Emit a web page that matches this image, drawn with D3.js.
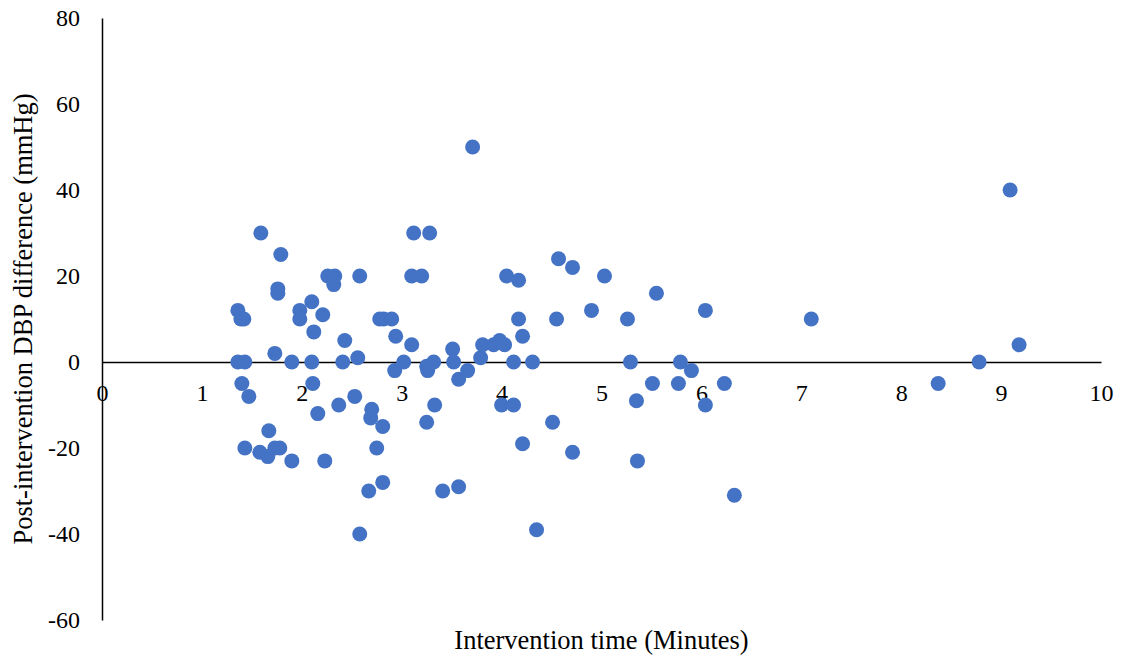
<!DOCTYPE html>
<html>
<head>
<meta charset="utf-8">
<script src="https://cdn.jsdelivr.net/npm/d3@7"></script>
<style>
  body { margin: 0; background: #fff; }
  text { font-family: "Liberation Serif", "Times New Roman", serif; fill: #000; }
</style>
</head>
<body>
<svg id="chart" width="1127" height="657"></svg>
<script>
var width = 1127, height = 657;

// intervention time (minutes)
var timeMin = [
  1.36, 1.39, 1.42, 1.36, 1.43, 1.40, 1.47, 1.43, 1.59, 1.79,
  1.76, 1.76, 1.73, 1.58, 1.66, 1.67, 1.73, 1.78, 1.90, 1.90,
  1.98, 1.98, 2.10, 2.12, 2.10, 2.11, 2.16, 2.21, 2.23, 2.26,
  2.33, 2.32, 2.37, 2.41, 2.43, 2.53, 2.56, 2.58, 2.58, 2.67,
  2.70, 2.69, 2.75, 2.78, 2.82, 2.90, 2.81, 2.81, 2.94, 2.93,
  3.02, 3.10, 3.10, 3.20, 3.12, 3.28, 3.25, 3.25, 3.26, 3.32,
  3.33, 3.41, 3.51, 3.52, 3.57, 3.57, 3.66, 3.71, 3.79, 3.81,
  3.92, 3.98, 4.03, 4.00, 4.12, 4.05, 4.12, 4.17, 4.17, 4.21,
  4.21, 4.31, 4.35, 4.51, 4.55, 4.57, 4.71, 4.71, 4.90, 5.03,
  5.26, 5.29, 5.35, 5.36, 5.51, 5.55, 5.77, 5.79, 5.90, 6.04,
  6.04, 6.23, 6.33, 7.10, 8.37, 8.78, 9.09, 9.18
];
// post-intervention DBP difference (mmHg)
var dbpDiff = [
  12, 10, 10, 0, 0, -5, -8, -20, 30, 25,
  17, 16, 2, -21, -22, -16, -20, -20, 0, -23,
  12, 10, 14, 7, 0, -5, -12, 11, -23, 20,
  20, 18, -10, 0, 5, -8, 1, 20, -40, -30,
  -11, -13, -20, 10, 10, 10, -15, -28, 6, -2,
  0, 4, 20, 20, 30, 30, -14, -1, -2, 0,
  -10, -30, 3, 0, -4, -29, -2, 50, 1, 4,
  4, 5, 4, -10, -10, 20, 0, 19, 10, 6,
  -19, 0, -39, -14, 10, 24, 22, -21, 12, 20,
  10, 0, -9, -23, -5, 16, -5, 0, -2, 12,
  -10, -5, -31, 10, -5, 0, 40, 4
];

var xTicks = [0, 1, 2, 3, 4, 5, 6, 7, 8, 9, 10];
var yTicks = [-60, -40, -20, 0, 20, 40, 60, 80];

var points = timeMin.map(function(d, i) {
    return { t: d, v: dbpDiff[i] };
});

var margin = { left: 102, right: 26, top: 18, bottom: 37 };

var x = d3.scaleLinear().domain([0, 10]).range([margin.left, width - margin.right]);
var y = d3.scaleLinear().domain([-60, 80]).range([height - margin.bottom, margin.top]);

var svg = d3.select("#chart");

// plain hyphen for negatives, like the original
var fmt = function(d) { return String(d); };

// y axis at x = 0
var yAxis = svg.append("g")
    .attr("transform", "translate(" + x(0) + ",0)")
    .call(d3.axisLeft(y).tickValues(yTicks).tickFormat(fmt).tickSize(0).tickPadding(22));
yAxis.select(".domain").attr("stroke", "#000").attr("stroke-width", 1.5);
yAxis.selectAll("text").style("font-size", "24px").attr("font-family", null);

// x axis at y = 0
var xAxis = svg.append("g")
    .attr("transform", "translate(0," + y(0) + ")")
    .call(d3.axisBottom(x).tickValues(xTicks).tickFormat(fmt).tickSize(0).tickPadding(22));
xAxis.select(".domain").attr("stroke", "#000").attr("stroke-width", 1.5);
xAxis.selectAll("text").style("font-size", "24px").attr("font-family", null);

svg.append("g")
    .selectAll("circle")
    .data(points)
    .join("circle")
    .attr("cx", function(d) { return x(d.t); })
    .attr("cy", function(d) { return y(d.v); })
    .attr("r", 7.5)
    .attr("fill", "#4472C4");

svg.append("text")
    .attr("x", (x(0) + x(10)) / 2)
    .attr("y", 649)
    .attr("text-anchor", "middle")
    .style("font-size", "26.5px")
    .text("Intervention time (Minutes)");

svg.append("text")
    .attr("transform", "translate(32," + ((y(80) + y(-60)) / 2) + ") rotate(-90)")
    .attr("text-anchor", "middle")
    .style("font-size", "26.5px")
    .text("Post-intervention DBP difference (mmHg)");
</script>
</body>
</html>
